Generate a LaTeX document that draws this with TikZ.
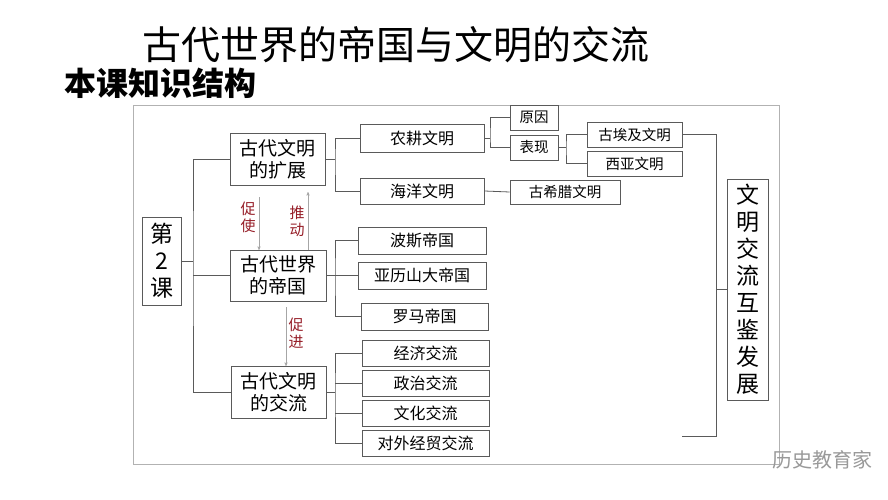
\documentclass[tikz,border=0pt]{standalone}
\usepackage{fontspec}
\setmainfont{Noto Sans CJK SC}
\usetikzlibrary{arrows}
\definecolor{linegray}{RGB}{90,90,90}
\definecolor{labelred}{RGB}{150,30,40}
\begin{document}
\begin{tikzpicture}[
            x = 1pt, y = -1pt, % pixel grid of the slide
            > = stealth',
            semithick
        ]

        \tikzstyle{box}=[draw = linegray, thick, inner sep = 0pt, align = center]
        \tikzstyle{link}=[draw = linegray, thick]
        \tikzstyle{push}=[draw = gray!70, ->, thin]
        \tikzstyle{tag}=[text = labelred, font = \fontsize{15}{17}\selectfont, align = center]

        \useasboundingbox (0,0) rectangle (888,500);
        \fill[white] (0,0) rectangle (888,500);

        \node (title) at (396,45) {\fontsize{39}{42}\selectfont 古代世界的帝国与文明的交流};
        \node (sub) at (160,83) {\fontsize{32}{34}\selectfont\bfseries 本课知识结构};
        \draw[draw = gray!60, thick] (133,105) rectangle (779,464);

        % main column
        \node[box, minimum width = 39, minimum height = 88, font = \fontsize{23}{27}\selectfont] (L) at (161.5,261) {第\\2\\课};
        \node[box, minimum width = 95, minimum height = 52, font = \fontsize{19}{22}\selectfont] (E) at (277.5,159) {古代文明\\的扩展};
        \node[box, minimum width = 96, minimum height = 51, font = \fontsize{19}{22}\selectfont] (W) at (278,275.5) {古代世界\\的帝国};
        \node[box, minimum width = 95, minimum height = 52, font = \fontsize{19}{22}\selectfont] (X) at (278.5,392) {古代文明\\的交流};

        % second column
        \node[box, minimum width = 124, minimum height = 28, font = \fontsize{16}{18}\selectfont] (A1) at (422,138) {农耕文明};
        \node[box, minimum width = 124, minimum height = 26, font = \fontsize{16}{18}\selectfont] (A2) at (422,191) {海洋文明};
        \node[box, minimum width = 128, minimum height = 27, font = \fontsize{16}{18}\selectfont] (B1) at (422,240.5) {波斯帝国};
        \node[box, minimum width = 128, minimum height = 27, font = \fontsize{16}{18}\selectfont] (B2) at (422,275.5) {亚历山大帝国};
        \node[box, minimum width = 127, minimum height = 27, font = \fontsize{16}{18}\selectfont] (B3) at (424.5,316.5) {罗马帝国};
        \node[box, minimum width = 127, minimum height = 26, font = \fontsize{16}{18}\selectfont] (C1) at (425.5,353) {经济交流};
        \node[box, minimum width = 127, minimum height = 26, font = \fontsize{16}{18}\selectfont] (C2) at (425.5,383) {政治交流};
        \node[box, minimum width = 127, minimum height = 26, font = \fontsize{16}{18}\selectfont] (C3) at (425.5,413) {文化交流};
        \node[box, minimum width = 127, minimum height = 26, font = \fontsize{16}{18}\selectfont] (C4) at (425.5,443) {对外经贸交流};

        % third and fourth column
        \node[box, minimum width = 48, minimum height = 25, font = \fontsize{14.5}{16}\selectfont] (R) at (534,117.5) {原因};
        \node[box, minimum width = 48, minimum height = 25, font = \fontsize{14.5}{16}\selectfont] (P) at (534,147.5) {表现};
        \node[box, minimum width = 110, minimum height = 24, font = \fontsize{14.5}{16}\selectfont] (G) at (565,192) {古希腊文明};
        \node[box, minimum width = 95, minimum height = 25, font = \fontsize{14.5}{16}\selectfont] (Eg) at (634.5,134.5) {古埃及文明};
        \node[box, minimum width = 95, minimum height = 25, font = \fontsize{14.5}{16}\selectfont] (Wa) at (634.5,163.5) {西亚文明};
        \node[box, minimum width = 41, minimum height = 221, font = \fontsize{23}{27}\selectfont] (D) at (747.5,289.5) {文\\明\\交\\流\\互\\鉴\\发\\展};

        % brackets
        \draw[link] (L.east) -- (193,261);
        \draw[link] (E.west) -| (193,261) |- (X.west);
        \draw[link] (W.west) -- (193,275.5);
        \draw[link] (E.east) -- (335,159);
        \draw[link] (A1.west) -| (335,159) |- (A2.west);
        \draw[link] (W.east) -- (335,275.5);
        \draw[link] (B1.west) -| (335,275.5) |- (B3.west);
        \draw[link] (B2.west) -- (335,275.5);
        \draw[link] (X.east) -- (335,392);
        \draw[link] (C1.west) -| (335,392) |- (C4.west);
        \draw[link] (C2.west) -- (335,383);
        \draw[link] (C3.west) -- (335,413);
        \draw[link] (A1.east) -- (490,138);
        \draw[link] (R.west) -| (490,138) |- (P.west);
        \draw[link] (A2.east) -- (G.west);
        \draw[link] (P.east) -- (566,147.5);
        \draw[link] (Eg.west) -| (566,147.5) |- (Wa.west);
        \coordinate (end) at (682,436);
        \draw[link] (Eg.east) -| (716,289.5) |- (end);
        \draw[link] (716,289.5) -- (D.west);

        % influence arrows
        \draw[push] (259,197) -- (259,250);
        \draw[push] (308,250) -- (308,192);
        \draw[push] (286,307) -- (286,366);
        \node[tag] (t1) at (248,217) {促\\使};
        \node[tag] (t2) at (297,221) {推\\动};
        \node[tag] (t3) at (296,333) {促\\进};

        \node[text = gray!80, font = \fontsize{20}{22}\selectfont] (wm) at (822,460) {历史教育家};
\end{tikzpicture}
\end{document}
